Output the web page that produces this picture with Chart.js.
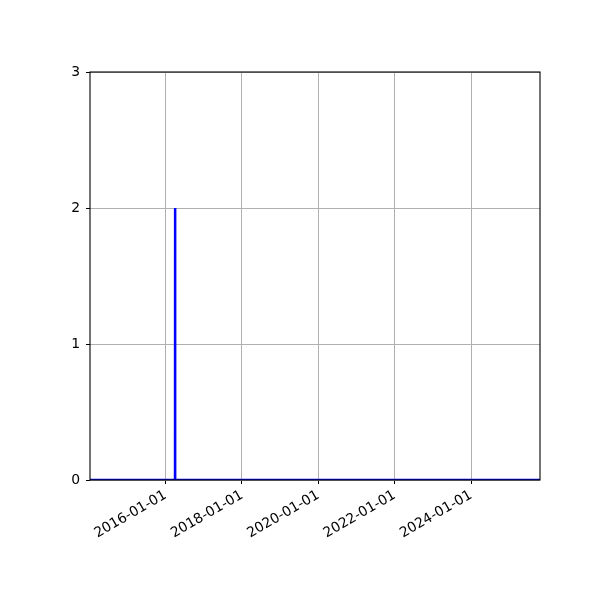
<!DOCTYPE html>
<html><head><meta charset="utf-8">
<style>html,body{margin:0;padding:0;background:#fff}</style>
<script src="https://cdn.jsdelivr.net/npm/chart.js@4"></script></head>
<body><div style="width:600px;height:600px"><canvas id="c" width="600" height="600"></canvas></div>
<script>
const dates = ['2014-01-08', '2016-03-31', '2016-04-01', '2016-04-02', '2025-10-22'];
const values = [0, 0, 2, 0, 0];
const xTickLabels = ['2016-01-01', '2018-01-01', '2020-01-01', '2022-01-01', '2024-01-01'];
const yTickValues = [0, 1, 2, 3];
const xRange = ['2014-01-08', '2025-10-22'];
const yRange = [0, 3];

const toT = s => Date.parse(s + 'T00:00:00Z');
const FONT = {family: '"DejaVu Sans", sans-serif', size: 13.9};

const spines = {
  id: 'spines',
  afterDatasetsDraw(chart) {
    const {ctx, chartArea: a} = chart;
    ctx.save();
    ctx.strokeStyle = '#000';
    ctx.lineWidth = 1.1;
    ctx.strokeRect(a.left, a.top, a.right - a.left, a.bottom - a.top);
    ctx.restore();
  }
};

new Chart(document.getElementById('c'), {
  type: 'line',
  data: {
    datasets: [{
      data: dates.map((d, i) => ({x: toT(d), y: values[i]})),
      borderColor: '#0000ff',
      borderWidth: 2.4,
      pointRadius: 0,
      tension: 0,
      fill: false
    }]
  },
  options: {
    responsive: false,
    animation: false,
    devicePixelRatio: 1,
    layout: {padding: {top: 72, right: 60, left: 0, bottom: 0}},
    plugins: {legend: {display: false}, tooltip: {enabled: false}},
    scales: {
      x: {
        type: 'linear',
        min: toT(xRange[0]),
        max: toT(xRange[1]),
        afterBuildTicks: s => { s.ticks = xTickLabels.map(d => ({value: toT(d)})); },
        afterFit: s => { s.height = 120; },
        grid: {color: '#b0b0b0', lineWidth: 1, tickColor: '#000', tickLength: 4, tickWidth: 1},
        border: {display: false},
        ticks: {
          autoSkip: false, minRotation: 30, maxRotation: 30, padding: 3,
          color: '#000', font: FONT,
          callback: (v, i) => xTickLabels[i]
        }
      },
      y: {
        type: 'linear',
        min: yRange[0],
        max: yRange[1],
        afterBuildTicks: s => { s.ticks = yTickValues.map(v => ({value: v})); },
        afterFit: s => { s.width = 90; },
        grid: {color: '#b0b0b0', lineWidth: 1, tickColor: '#000', tickLength: 4, tickWidth: 1},
        border: {display: false},
        ticks: {color: '#000', font: FONT, padding: 6, callback: v => String(v)}
      }
    }
  },
  plugins: [spines]
});
</script></body></html>
